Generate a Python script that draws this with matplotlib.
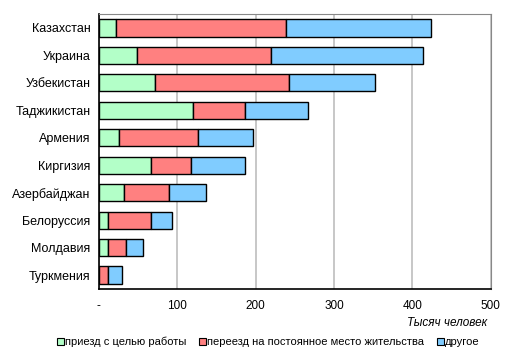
import matplotlib
matplotlib.use("Agg")
import matplotlib.pyplot as plt
from matplotlib.patches import Patch
import numpy as np

countries = ["Казахстан", "Украина", "Узбекистан", "Таджикистан", "Армения",
             "Киргизия", "Азербайджан", "Белоруссия", "Молдавия", "Туркмения"]
work = [22, 49, 71, 120, 26, 67, 32, 12, 12, 0]
move = [217, 170, 172, 67, 100, 50, 57, 54, 23, 11]
other = [185, 194, 109, 80, 70, 70, 48, 27, 21, 18]
series_names = ["приезд с целью работы", "переезд на постоянное место жительства", "другое"]
xticks = [0, 100, 200, 300, 400, 500]
xticklabels = ["-", "100", "200", "300", "400", "500"]
colors = ["#b3ffc8", "#ff8080", "#80ccff"]

plt.rcParams['font.family'] = ['Liberation Sans', 'DejaVu Sans']
fig = plt.figure(figsize=(5.15, 3.54), dpi=100)
ax = fig.add_axes([0.192, 0.184, 0.761, 0.776])

y = np.arange(len(countries))
left = np.zeros(len(countries))
for vals, c in zip([work, move, other], colors):
    ax.barh(y, vals, left=left, height=0.63, color=c, edgecolor="black", linewidth=1.0, zorder=3)
    left = left + np.array(vals)

ax.set_ylim(len(countries) - 0.5, -0.5)
ax.set_xlim(0, 500)
ax.set_yticks(y)
ax.set_yticklabels(countries, fontsize=9)
ax.set_xticks(xticks)
ax.set_xticklabels(xticklabels, fontsize=8.5)
ax.tick_params(length=0, pad=6)
ax.tick_params(axis='x', pad=8)
ax.xaxis.grid(True, color="#bdbdbd", linewidth=1.2, zorder=0)
ax.set_axisbelow(True)
for s in ["top", "right"]:
    ax.spines[s].set_color("#888888")
for s in ["left", "bottom"]:
    ax.spines[s].set_color("black")
    ax.spines[s].set_linewidth(1.2)

fig.text(0.946, 0.088, "Тысяч человек", style="italic", ha="right", va="center", fontsize=8.5)

handles = [Patch(facecolor=c, edgecolor="black", linewidth=0.8) for c in colors]
fig.legend(handles, series_names, loc="center", bbox_to_anchor=(0.521, 0.034), ncol=3,
           frameon=False, fontsize=8, handlelength=0.6, handleheight=0.6,
           handletextpad=0.1, columnspacing=1.15)

fig.savefig("out.png", dpi=100)
